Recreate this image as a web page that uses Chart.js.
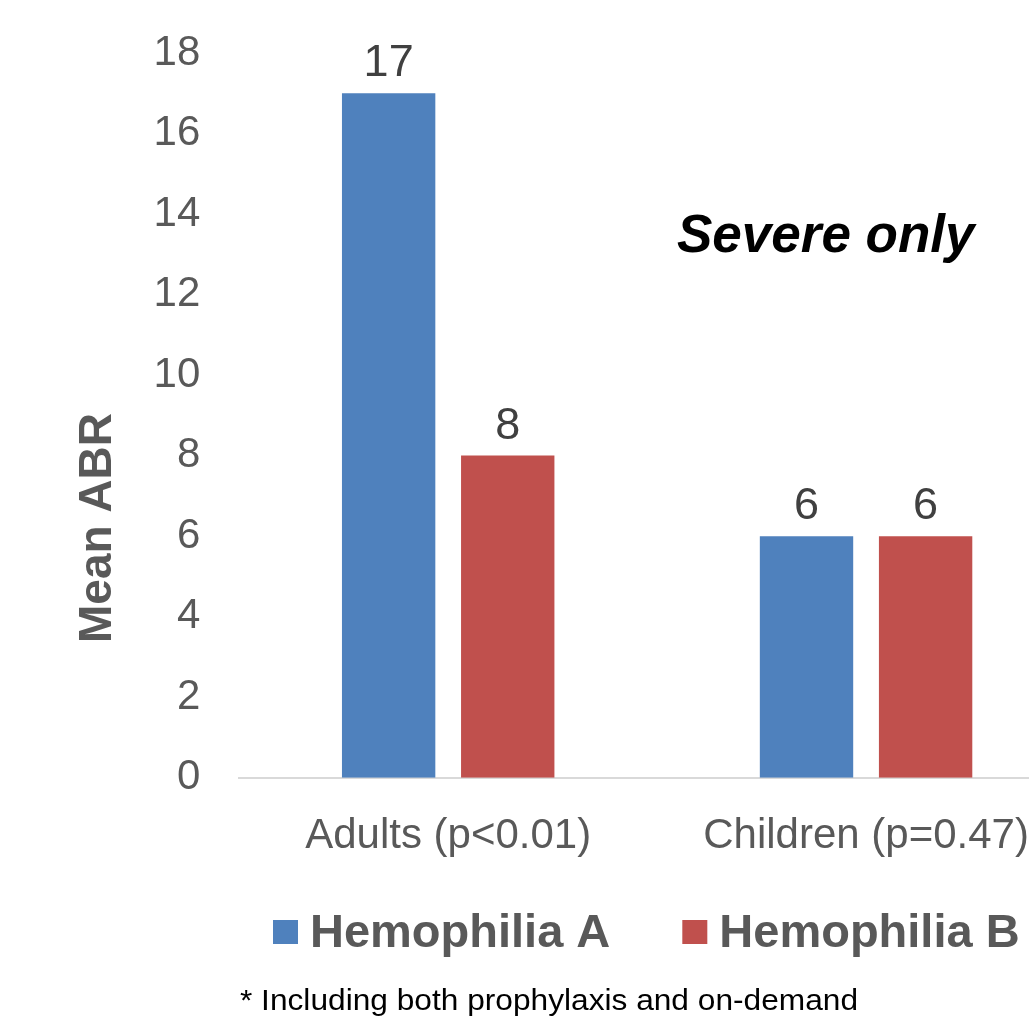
<!DOCTYPE html>
<html>
<head>
<meta charset="utf-8">
<title>Mean ABR by age group</title>
<script src="https://cdn.jsdelivr.net/npm/chart.js@4/dist/chart.umd.min.js"></script>
<style>
  html, body { margin: 0; padding: 0; overflow: hidden; background: #ffffff; }
  #wrap { width: 1075px; height: 1020px; }
  canvas { display: block; }
</style>
</head>
<body>
<div id="wrap"><canvas id="chart" width="1075" height="1020"></canvas></div>
<script>
// ---- data ----
const categories = ['Adults (p<0.01)', 'Children (p=0.47)'];
const seriesNames = ['Hemophilia A', 'Hemophilia B'];
const hemophiliaA = [17, 6];
const hemophiliaB = [8, 6];
const yTickValues = [0, 2, 4, 6, 8, 10, 12, 14, 16, 18];
const yAxisTitle = 'Mean ABR';
const subsetNote = 'Severe only';
const footnote = '* Including both prophylaxis and on-demand';

// ---- styling ----
const FONT = "'Liberation Sans', Arial, Helvetica, sans-serif";
const COLORS = ['#4F81BD', '#C0504D'];
const AXIS_TEXT = '#595959';
const VALUE_TEXT = '#404040';

// value labels above each bar
const barValueLabels = {
  id: 'barValueLabels',
  afterDatasetsDraw(chart) {
    const ctx = chart.ctx;
    ctx.save();
    ctx.font = '45px ' + FONT;
    ctx.fillStyle = VALUE_TEXT;
    ctx.textAlign = 'center';
    ctx.textBaseline = 'alphabetic';
    chart.data.datasets.forEach((ds, di) => {
      chart.getDatasetMeta(di).data.forEach((bar, i) => {
        ctx.fillText(String(ds.data[i]), bar.x, bar.y - 17);
      });
    });
    ctx.restore();
  }
};

// axis title, note, legend and footnote
const decorations = {
  id: 'decorations',
  afterDraw(chart) {
    const ctx = chart.ctx;
    ctx.save();

    // rotated y-axis title
    ctx.save();
    ctx.translate(111, 528);
    ctx.rotate(-Math.PI / 2);
    ctx.font = 'bold 46px ' + FONT;
    ctx.fillStyle = AXIS_TEXT;
    ctx.textAlign = 'center';
    ctx.textBaseline = 'alphabetic';
    ctx.fillText(yAxisTitle, 0, 0);
    ctx.restore();

    // subset note
    ctx.font = 'italic bold 53px ' + FONT;
    ctx.fillStyle = '#000000';
    ctx.textAlign = 'left';
    ctx.textBaseline = 'alphabetic';
    ctx.fillText(subsetNote, 677, 252);

    // legend
    ctx.font = 'bold 47px ' + FONT;
    let x = 273;
    chart.data.datasets.forEach((ds) => {
      ctx.fillStyle = ds.backgroundColor;
      ctx.fillRect(x, 920, 25, 24);
      ctx.fillStyle = AXIS_TEXT;
      ctx.fillText(ds.label, x + 37, 947);
      x += 37 + ctx.measureText(ds.label).width + 72;
    });

    // footnote
    ctx.font = '30px ' + FONT;
    ctx.fillStyle = '#000000';
    const w = ctx.measureText(footnote).width;
    ctx.translate(240, 1010);
    ctx.scale(618 / w, 1);
    ctx.fillText(footnote, 0, 0);

    ctx.restore();
  }
};

new Chart(document.getElementById('chart'), {
  type: 'bar',
  data: {
    labels: categories,
    datasets: [
      { label: seriesNames[0], data: hemophiliaA, backgroundColor: COLORS[0] },
      { label: seriesNames[1], data: hemophiliaB, backgroundColor: COLORS[1] }
    ]
  },
  options: {
    responsive: false,
    animation: false,
    devicePixelRatio: 1,
    layout: { padding: { top: 53, left: 0, right: 0, bottom: 0 } },
    datasets: {
      bar: { categoryPercentage: 0.57, barPercentage: 0.784 }
    },
    plugins: {
      legend: { display: false },
      tooltip: { enabled: false }
    },
    scales: {
      x: {
        grid: { display: false },
        border: { display: true, color: '#D9D9D9', width: 2 },
        ticks: { color: AXIS_TEXT, font: { family: FONT, size: 42 }, padding: 26, maxRotation: 0 },
        afterFit(scale) { scale.height = 242.3; }
      },
      y: {
        min: 0,
        max: 18,
        afterBuildTicks(scale) { scale.ticks = yTickValues.map(v => ({ value: v })); },
        grid: { display: false },
        border: { display: false },
        ticks: { color: AXIS_TEXT, font: { family: FONT, size: 42 }, padding: 31 },
        afterFit(scale) {
          scale.width = 239.25;
          scale.paddingTop = 0;
          scale.paddingBottom = 0;
        }
      }
    }
  },
  plugins: [barValueLabels, decorations]
});
</script>
</body>
</html>
